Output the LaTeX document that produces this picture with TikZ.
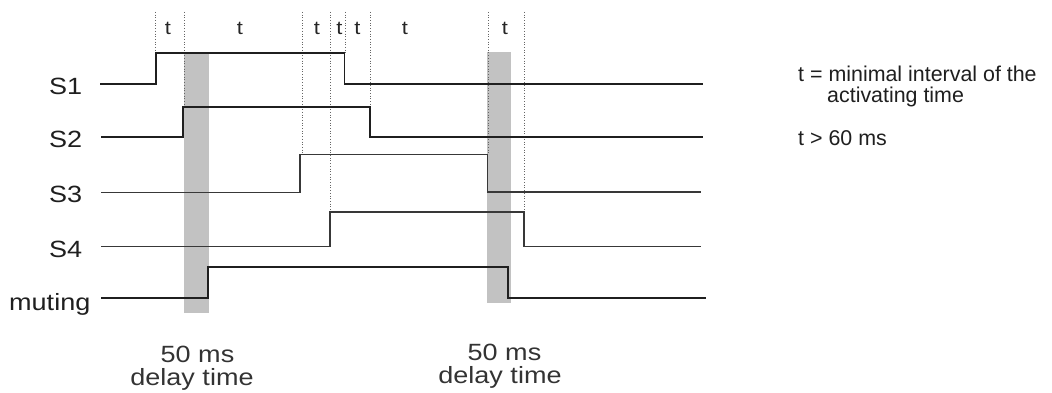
\documentclass[tikz,border=0pt]{standalone}
\usepackage{fontspec}
\setmainfont{Liberation Sans}
\newfontfamily\labfont{Liberation Sans}[FakeStretch=1.15]
\begin{document}
\begin{tikzpicture}[x=1pt,y=-1pt,
  sig/.style={line width=1.9pt,color=black!88,line join=miter},
  sigthin/.style={line width=1.6pt,color=black!78,line join=miter},
  guide/.style={dotted,line width=0.7pt,color=black!60},
  delaybar/.style={fill=black!24,draw=none},
  siglabel/.style={font=\labfont\fontsize{23.5}{28}\selectfont,text=black!88,inner sep=0pt,anchor=base west},
  delaylabel/.style={font=\labfont\fontsize{23.5}{28}\selectfont,text=black!80,inner sep=0pt,anchor=base},
  tlabel/.style={font=\labfont\fontsize{19}{22}\selectfont,text=black!85,inner sep=0pt,anchor=base},
  legend/.style={font=\fontsize{21.4}{25}\selectfont,text=black!88,inner sep=0pt,anchor=base west}]
\useasboundingbox[fill=white] (0,0) rectangle (1052,393);
% delay bars
\fill[delaybar] (184,53) rectangle (209,313);
\fill[delaybar] (487,52) rectangle (511,303);
% guide lines
\draw[guide] (155,12) -- (155,53);
\draw[guide] (184,12) -- (184,107);
\draw[guide] (302,12) -- (302,154.5);
\draw[guide] (330.5,12) -- (330.5,212);
\draw[guide] (345,12) -- (345,53);
\draw[guide] (370,12) -- (370,107);
\draw[guide] (488,12) -- (488,154.5);
\draw[guide] (524,12) -- (524,212);
% t labels
\node[tlabel] (t1) at (168,35) {t};
\node[tlabel] (t2) at (240,35) {t};
\node[tlabel] (t3) at (317,35) {t};
\node[tlabel] (t4) at (339.5,35) {t};
\node[tlabel] (t5) at (357.5,35) {t};
\node[tlabel] (t6) at (405,35) {t};
\node[tlabel] (t7) at (505,35) {t};
% signals
\draw[sig] (100,84) -- (156,84) -- (156,53) -- (344.5,53) -- (344.5,84) -- (703,84);
\draw[sig] (101,137) -- (183,137) -- (183,107) -- (370,107) -- (370,137) -- (703,137);
\draw[sigthin] (101,192.5) -- (300,192.5) -- (300,154.5) -- (487.5,154.5) -- (487.5,192) -- (701,192);
\draw[sigthin] (101,246.5) -- (330,246.5) -- (330,212) -- (524,212) -- (524,246.5) -- (701,246.5);
\draw[sig] (101,298) -- (208,298) -- (208,267) -- (508,267) -- (508,298) -- (706,298);
% signal labels
\node[siglabel] (s1) at (49,95) {S1};
\node[siglabel] (s2) at (49,148) {S2};
\node[siglabel] (s3) at (49,202) {S3};
\node[siglabel] (s4) at (49,257) {S4};
\node[siglabel] (mut) at (9,310) {muting};
% delay labels
\node[delaylabel] (d1a) at (197.5,362) {50 ms};
\node[delaylabel] (d1b) at (192,385) {delay time};
\node[delaylabel] (d2a) at (504.5,360) {50 ms};
\node[delaylabel] (d2b) at (500,383) {delay time};
% legend
\node[legend] (l1) at (798,82) {t = minimal interval of the};
\node[legend] (l2) at (827,102.5) {activating time};
\node[legend] (l3) at (798,146) {t > 60 ms};
\end{tikzpicture}
\end{document}
